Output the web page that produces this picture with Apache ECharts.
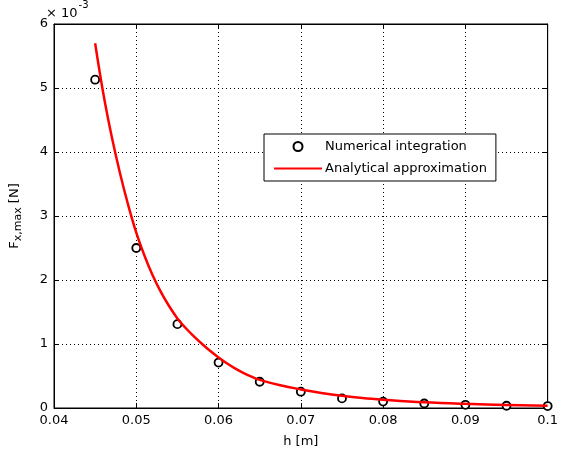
<!DOCTYPE html>
<html>
<head>
<meta charset="utf-8">
<script src="https://cdn.jsdelivr.net/npm/echarts@6/dist/echarts.min.js"></script>
<style>html,body{margin:0;padding:0;background:#fff}#c{width:561px;height:453px}</style>
</head>
<body>
<div id="c"></div>
<script>
// Values of F in units of 1e-3 N
var hNum = [0.045, 0.05, 0.055, 0.06, 0.065, 0.07, 0.075, 0.08, 0.085, 0.09, 0.095, 0.1];
var fNum = [5.13, 2.50, 1.31, 0.71, 0.41, 0.255, 0.15, 0.10, 0.07, 0.05, 0.035, 0.03];
var hAna = [0.045, 0.046, 0.047, 0.048, 0.049, 0.050, 0.051, 0.052, 0.053, 0.054, 0.055,
            0.056, 0.057, 0.058, 0.059, 0.060, 0.061, 0.062, 0.063, 0.064, 0.065,
            0.0675, 0.07, 0.0725, 0.075, 0.0775, 0.08, 0.085, 0.09, 0.095, 0.1];
var fAna = [5.70, 4.91, 4.25, 3.68, 3.18, 2.74, 2.38, 2.07, 1.81, 1.59, 1.40,
            1.25, 1.12, 1.00, 0.89, 0.79, 0.70, 0.62, 0.55, 0.49, 0.44,
            0.355, 0.29, 0.235, 0.19, 0.155, 0.13, 0.09, 0.065, 0.048, 0.035];
var xTicks = ['0.04', '0.05', '0.06', '0.07', '0.08', '0.09', '0.1'];
var yTicks = ['0', '1', '2', '3', '4', '5', '6'];
var seriesNames = ['Numerical integration', 'Analytical approximation'];

var FONT = 'DejaVu Sans';
var chart = echarts.init(document.getElementById('c'), null, {renderer: 'canvas'});
function pairs(xs, ys) { return xs.map(function (x, i) { return [x, ys[i]]; }); }
var gridDef = {left: 50, right: 6, top: 24, bottom: 44, show: true, borderColor: '#000', borderWidth: 1, backgroundColor: '#fff'};
var xBase = {
  type: 'value', min: 0.04, max: 0.1, interval: 0.01,
  axisTick: {inside: true, length: 5, lineStyle: {color: '#000'}},
  axisLine: {onZero: false, lineStyle: {color: '#000', width: 1}}
};
var yBase = {
  type: 'value', min: 0, max: 6, interval: 1,
  axisTick: {inside: true, length: 5, lineStyle: {color: '#000'}},
  axisLine: {onZero: false, lineStyle: {color: '#000', width: 1}}
};
var option = {
  animation: false,
  backgroundColor: '#fff',
  textStyle: {fontFamily: FONT},
  title: {
    text: '{a|× 10}{b|-3}',
    left: 46, top: 0, padding: 0,
    textStyle: {fontWeight: 'normal', rich: {
      a: {fontFamily: FONT, fontSize: 13, fontWeight: 'normal', color: '#000', padding: [7, 0, 0, 0]},
      b: {fontFamily: FONT, fontSize: 10, fontWeight: 'normal', color: '#000', verticalAlign: 'top', padding: [0, 0, 0, 1]}
    }}
  },
  grid: gridDef,
  legend: {
    orient: 'vertical', left: 264, top: 134,
    padding: [6, 9, 6, 9], itemGap: 9,
    itemWidth: 48, itemHeight: 9,
    backgroundColor: '#fff', borderColor: '#000', borderWidth: 1, borderRadius: 0,
    textStyle: {fontFamily: FONT, fontSize: 13, color: '#000', padding: [0, 0, 0, -2]},
    data: [
      {name: seriesNames[0]},
      {name: seriesNames[1], itemStyle: {opacity: 0, color: 'transparent', borderWidth: 0}}
    ]
  },
  xAxis: [
    Object.assign({}, xBase, {
      position: 'bottom',
      name: 'h [m]', nameLocation: 'middle', nameGap: 27,
      nameTextStyle: {fontFamily: FONT, fontSize: 13, color: '#000'},
      axisLabel: {color: '#000', fontFamily: FONT, fontSize: 13, margin: 6,
        formatter: function (v) { return xTicks[Math.round((v - 0.04) / 0.01)]; }},
      splitLine: {show: true, lineStyle: {color: '#000', type: [1, 3], width: 1}}
    }),
    Object.assign({}, xBase, {position: 'top', axisLabel: {show: false}, splitLine: {show: false}})
  ],
  yAxis: [
    Object.assign({}, yBase, {
      position: 'left',
      name: '{f|F}{s|x,max}{f| [N]}', nameLocation: 'middle', nameGap: 30, nameRotate: 90,
      nameTextStyle: {rich: {
        f: {fontFamily: FONT, fontSize: 13, color: '#000'},
        s: {fontFamily: FONT, fontSize: 11, color: '#000', padding: [8, 0, 0, 0]}
      }},
      axisLabel: {color: '#000', fontFamily: FONT, fontSize: 13, margin: 6,
        formatter: function (v) { return yTicks[Math.round(v)]; }},
      splitLine: {show: true, lineStyle: {color: '#000', type: [1, 3], width: 1}}
    }),
    Object.assign({}, yBase, {position: 'right', axisLabel: {show: false}, splitLine: {show: false}})
  ],
  series: [
    {
      name: seriesNames[0], type: 'scatter', xAxisIndex: 0, yAxisIndex: 0,
      data: pairs(hNum, fNum), symbol: 'circle', symbolSize: 8,
      itemStyle: {color: '#fff', borderColor: '#000', borderWidth: 1.8, opacity: 1},
      z: 3
    },
    {
      name: seriesNames[1], type: 'line', xAxisIndex: 0, yAxisIndex: 0,
      data: pairs(hAna, fAna), showSymbol: false, symbol: 'none', smooth: 0.4,
      lineStyle: {color: '#ff0000', width: 2.5}, itemStyle: {color: '#ff0000'},
      z: 4
    }
  ]
};
chart.setOption(option);
</script>
</body>
</html>
